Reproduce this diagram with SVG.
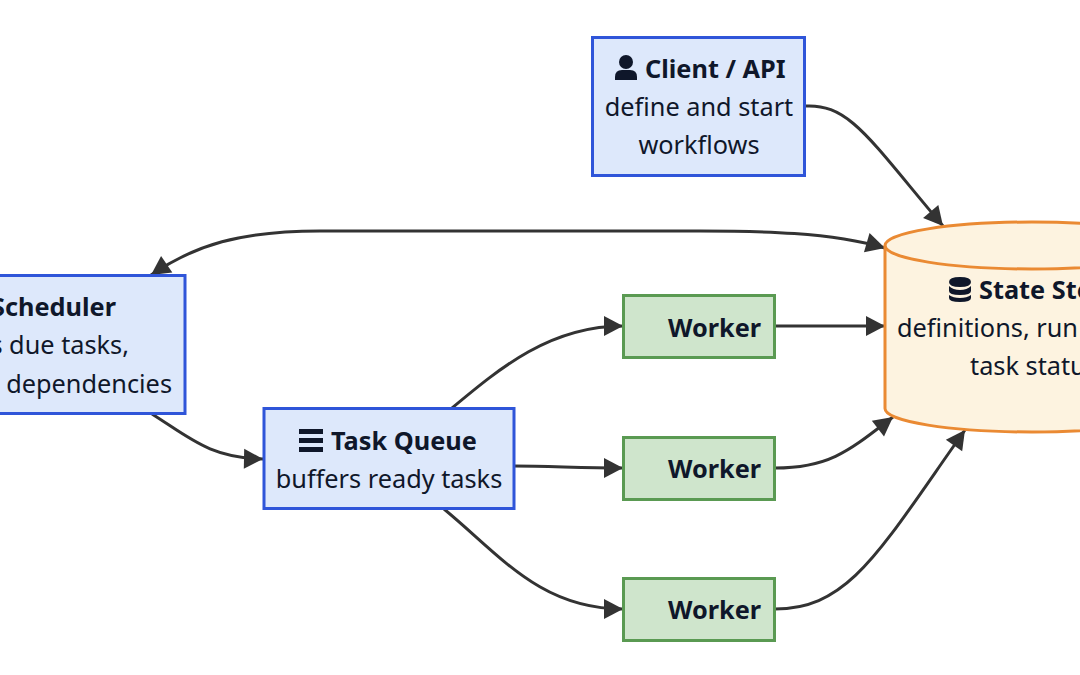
<svg xmlns="http://www.w3.org/2000/svg" width="1080" height="675" viewBox="0 0 1080 675">
<style>
text{font-family:"Noto Sans","Open Sans",sans-serif;font-size:25.300px;fill:#0f172a}
.b{font-weight:700}
.m{text-anchor:middle}
.blue{fill:#dde8fb;stroke:#2f55d9;stroke-width:3}
.green{fill:#cfe5cc;stroke:#5a9a52;stroke-width:3}
.orange{fill:#fdf3e0;stroke:#ea8a33;stroke-width:3}
.edge{fill:none;stroke:#333;stroke-width:3;marker-end:url(#arrow)}
.both{marker-start:url(#arrow)}
.icon{fill:#0f172a}
</style>
<defs>
<marker id="arrow" markerUnits="userSpaceOnUse" markerWidth="22" markerHeight="22" refX="20" refY="11" orient="auto-start-reverse">
<path d="M1 1 L20 11 L1 21 Z" fill="#333"/>
</marker>
</defs>
<g id="connectors">
<path class="edge" d="M806 106 C850 104 870 140 943 226"/>
<path class="edge both" d="M885 248 C830 232 760 231 700 231 L320 231 C240 231 195 245 151 275"/>
<path class="edge" d="M152 414 C190 438 210 458 263 459"/>
<path class="edge" d="M452 408 C500 368 550 326 623 326"/>
<path class="edge" d="M514 466 C550 466 580 468 623 468"/>
<path class="edge" d="M444 509 C500 555 540 609 623 609"/>
<path class="edge" d="M775 326 L885 326"/>
<path class="edge" d="M775 468 C830 468 850 450 893 417"/>
<path class="edge" d="M775 609 C850 609 880 550 965 430"/>
</g>
<g id="client">
<rect class="blue" x="592.500" y="37.500" width="212" height="138"/>
<circle class="icon" cx="626" cy="62" r="7"/>
<path class="icon" d="M615 80 V77 Q615 70 622 70 H630 Q637 70 637 77 V80 Z"/>
<text class="b" x="645" y="77.500">Client / API</text>
<text class="m" x="699" y="115.500">define and start</text>
<text class="m" x="699" y="153.500">workflows</text>
</g>
<g id="scheduler">
<rect class="blue" x="-60" y="275.500" width="245" height="138"/>
<text class="b" text-anchor="end" x="116" y="315.500">Scheduler</text>
<text text-anchor="end" x="129" y="353.500">s due tasks,</text>
<text text-anchor="end" x="172" y="392.500">dependencies</text>
</g>
<g id="queue">
<rect class="blue" x="264" y="408.500" width="250" height="100"/>
<path class="icon" d="M299 429 H323 V434 H299 Z M299 438 H323 V443 H299 Z M299 447 H323 V452 H299 Z"/>
<text class="b" x="331" y="449.500">Task Queue</text>
<text class="m" x="389" y="487.500">buffers ready tasks</text>
</g>
<g id="worker1">
<rect class="green" x="623.500" y="295.500" width="151" height="62"/>
<text class="b" x="668" y="336.500">Worker</text>
</g>
<g id="worker2">
<rect class="green" x="623.500" y="437.500" width="151" height="62"/>
<text class="b" x="668" y="477.500">Worker</text>
</g>
<g id="worker3">
<rect class="green" x="623.500" y="578.500" width="151" height="62"/>
<text class="b" x="668" y="618.500">Worker</text>
</g>
<g id="store">
<path class="orange" d="M885 245.500 A147 23.500 0 0 1 1179 245.500 V408.500 A147 23.500 0 0 1 885 408.500 Z"/>
<path fill="none" stroke="#ea8a33" stroke-width="3" d="M885 245.500 A147 23.500 0 0 0 1179 245.500"/>
<path class="icon" d="M949 282 Q949 277 960 277 Q971 277 971 282 Q971 287 960 287 Q949 287 949 282 Z M949 286 Q953 290 960 290 Q967 290 971 286 V291 Q971 295 960 295 Q949 295 949 291 Z M949 295 Q953 298 960 298 Q967 298 971 295 V298 Q971 302 960 302 Q949 302 949 298 Z"/>
<text class="b" x="979" y="298.500">State Store</text>
<text x="897" y="336.500">definitions, run</text>
<text x="970" y="374.500">task status</text>
</g>
</svg>
